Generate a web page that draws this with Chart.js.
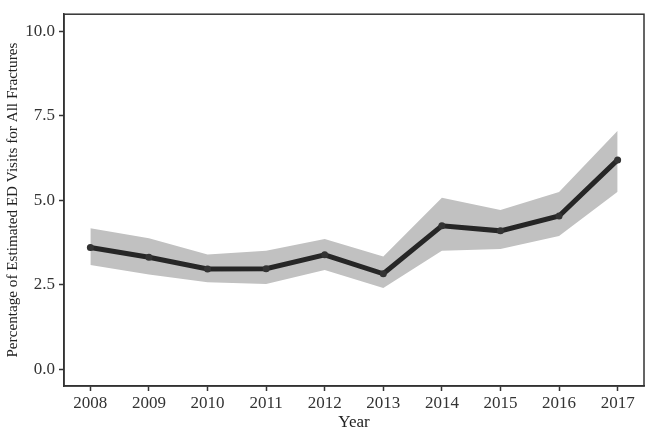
<!DOCTYPE html>
<html>
<head>
<meta charset="utf-8">
<script src="https://cdn.jsdelivr.net/npm/chart.js@4.4.1/dist/chart.umd.min.js"></script>
<style>
    html, body { margin: 0; padding: 0; background: #ffffff; }
    #wrap { width: 648px; height: 444px; }
</style>
</head>
<body>
<div id="wrap"><canvas id="fractureChart"></canvas></div>
<script>
// values
const years = [2008, 2009, 2010, 2011, 2012, 2013, 2014, 2015, 2016, 2017];
const percentVisits = [3.60, 3.31, 2.96, 2.97, 3.38, 2.82, 4.24, 4.09, 4.53, 6.19];
const upperBound = [4.17, 3.87, 3.39, 3.50, 3.85, 3.33, 5.07, 4.71, 5.24, 7.05];
const lowerBound = [3.08, 2.80, 2.57, 2.52, 2.93, 2.40, 3.50, 3.55, 3.94, 5.25];
const yTicks = [0, 2.5, 5, 7.5, 10];

const axisColor = '#333333';
const fontFamily = '"Liberation Serif", "Times New Roman", serif';

function toPoints(values) {
    return years.map((year, i) => ({ x: year, y: values[i] }));
}

// closes the panel frame on top and right
const panelFrame = {
    id: 'panelFrame',
    afterDraw(chart) {
        const { ctx, chartArea } = chart;
        ctx.save();
        ctx.strokeStyle = axisColor;
        ctx.lineWidth = 1.5;
        ctx.strokeRect(chartArea.left, chartArea.top, chartArea.right - chartArea.left, chartArea.bottom - chartArea.top);
        ctx.restore();
    }
};

document.addEventListener('DOMContentLoaded', () => {
    const canvas = document.getElementById('fractureChart');

    new Chart(canvas, {
        type: 'line',
        data: {
            datasets: [{
                label: 'Percentage',
                data: toPoints(percentVisits),
                order: 0,
                borderColor: '#262626',
                backgroundColor: '#262626',
                borderWidth: 5,
                pointRadius: 3.5,
                pointBorderWidth: 0,
                pointBackgroundColor: '#333333',
                fill: false,
                tension: 0,
            }, {
                label: 'Upper',
                data: toPoints(upperBound),
                order: 1,
                borderWidth: 0,
                pointRadius: 0,
                backgroundColor: '#c1c1c1',
                fill: '+1',
                tension: 0,
            }, {
                label: 'Lower',
                data: toPoints(lowerBound),
                order: 1,
                borderWidth: 0,
                pointRadius: 0,
                backgroundColor: '#c1c1c1',
                fill: false,
                tension: 0,
            }]
        },
        options: {
            responsive: true,
            maintainAspectRatio: false,
            animation: false,
            layout: {
                padding: { top: 11, right: 3, left: 0, bottom: 0 }
            },
            plugins: {
                legend: { display: false },
                tooltip: { enabled: false },
            },
            scales: {
                x: {
                    type: 'linear',
                    min: 2007.55,
                    max: 2017.45,
                    afterBuildTicks: (scale) => {
                        scale.ticks = years.map(v => ({ value: v }));
                    },
                    afterFit: (scale) => {
                        scale.height = 58;
                    },
                    grid: {
                        drawOnChartArea: false,
                        tickLength: 5,
                        tickColor: axisColor,
                        tickWidth: 1.5,
                    },
                    border: { color: axisColor, width: 1.5 },
                    ticks: {
                        color: '#333333',
                        padding: 2,
                        maxRotation: 0,
                        font: { family: fontFamily, size: 17 },
                        callback: (value) => String(value),
                    },
                    title: {
                        display: true,
                        text: 'Year',
                        color: '#222222',
                        font: { family: fontFamily, size: 17 },
                        padding: { top: 0, bottom: 11 },
                    }
                },
                y: {
                    min: -0.5,
                    max: 10.5,
                    afterBuildTicks: (scale) => {
                        scale.ticks = yTicks.map(v => ({ value: v }));
                    },
                    afterFit: (scale) => {
                        scale.width = 64;
                    },
                    grid: {
                        drawOnChartArea: false,
                        tickLength: 5,
                        tickColor: axisColor,
                        tickWidth: 1.5,
                    },
                    border: { color: axisColor, width: 1.5 },
                    ticks: {
                        color: '#333333',
                        padding: 4,
                        font: { family: fontFamily, size: 17 },
                        callback: (value) => value.toFixed(1),
                    },
                    title: {
                        display: true,
                        text: 'Percentage of Estimated ED Visits for All Fractures',
                        color: '#222222',
                        font: { family: fontFamily, size: 15.2 },
                        padding: { top: 4, bottom: 0 },
                    }
                }
            }
        },
        plugins: [panelFrame]
    });
});
</script>
</body>
</html>
